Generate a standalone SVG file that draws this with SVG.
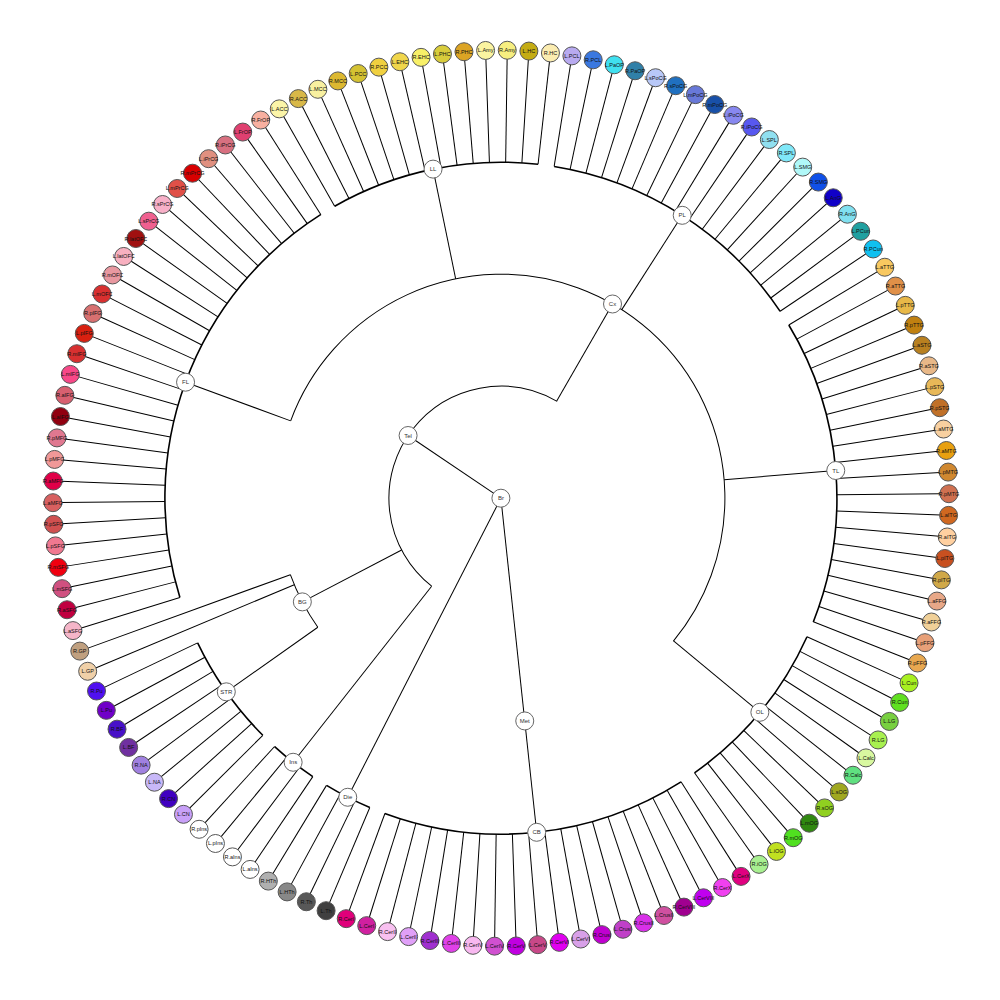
<svg xmlns="http://www.w3.org/2000/svg" xmlns:xlink="http://www.w3.org/1999/xlink" width="1000" height="1000" viewBox="0 0 1000 1000">
<style>
#links{stroke:#000;stroke-width:1;fill:none}
#links .a3{stroke-width:1.6}
.nd circle{stroke:#555;stroke-width:1}
.in circle{fill:#fff;stroke:#666}
text{font-family:"Liberation Sans",Arial,sans-serif;font-size:5.5px;text-anchor:middle;dominant-baseline:central;fill:#111}
.in text{font-size:6px;fill:#333}
</style>
<defs>
<line id="k" x1="0" y1="-336" x2="0" y2="-440"/>
<line id="kg" x1="0" y1="-224" x2="0" y2="-440"/>
</defs>
<rect width="1000" height="1000" fill="#fff"/>
<g transform="translate(500.9,498.2)">
<g id="links">
<circle class="a3" r="336" stroke-dasharray="211.1 2200" transform="rotate(-119.65)"/>
<circle class="a3" r="336" stroke-dasharray="276.07 2200" transform="rotate(-80.881)"/>
<circle class="a3" r="336" stroke-dasharray="308.55 2200" transform="rotate(-31.035)"/>
<circle class="a3" r="336" stroke-dasharray="178.64 2200" transform="rotate(24.35)"/>
<circle class="a3" r="336" stroke-dasharray="308.55 2200" transform="rotate(57.581)"/>
<circle class="a3" r="336" stroke-dasharray="48.72 2200" transform="rotate(112.965)"/>
<circle class="a3" r="336" stroke-dasharray="48.72 2200" transform="rotate(124.042)"/>
<circle class="a3" r="336" stroke-dasharray="113.68 2200" transform="rotate(135.119)"/>
<circle class="a3" r="336" stroke-dasharray="438.47 2200" transform="rotate(162.812)"/>
<circle r="224" stroke-dasharray="779.49 1500" transform="rotate(-159.804)"/>
<circle r="224" stroke-dasharray="59.54 1500" transform="rotate(144.812)"/>
<circle r="112" stroke-dasharray="335.62 800" transform="rotate(128.196)"/>
<line y1="0" y2="-112" transform="rotate(304.04)"/>
<line y1="0" y2="-224" transform="rotate(173.888)"/>
<line y1="-224" y2="-336" transform="rotate(173.888)"/>
<line y1="0" y2="-336" transform="rotate(207.119)"/>
<line y1="-112" y2="-224" transform="rotate(29.889)"/>
<line y1="-112" y2="-224" transform="rotate(242.427)"/>
<line y1="-112" y2="-336" transform="rotate(218.196)"/>
<line y1="-224" y2="-336" transform="rotate(234.812)"/>
<line y1="-224" y2="-336" transform="rotate(290.196)"/>
<line y1="-224" y2="-336" transform="rotate(-11.65)"/>
<line y1="-224" y2="-336" transform="rotate(32.658)"/>
<line y1="-224" y2="-336" transform="rotate(85.273)"/>
<line y1="-224" y2="-336" transform="rotate(129.581)"/>
<use href="#k" transform="rotate(-29.65)"/><use href="#k" transform="rotate(-26.881)"/><use href="#k" transform="rotate(-24.112)"/><use href="#k" transform="rotate(-21.342)"/><use href="#k" transform="rotate(-18.573)"/><use href="#k" transform="rotate(-15.804)"/><use href="#k" transform="rotate(-13.035)"/><use href="#k" transform="rotate(-10.265)"/><use href="#k" transform="rotate(-7.496)"/><use href="#k" transform="rotate(-4.727)"/><use href="#k" transform="rotate(-1.958)"/><use href="#k" transform="rotate(0.812)"/><use href="#k" transform="rotate(3.581)"/><use href="#k" transform="rotate(6.35)"/>
<use href="#k" transform="rotate(9.119)"/><use href="#k" transform="rotate(11.888)"/><use href="#k" transform="rotate(14.658)"/><use href="#k" transform="rotate(17.427)"/><use href="#k" transform="rotate(20.196)"/><use href="#k" transform="rotate(22.965)"/><use href="#k" transform="rotate(25.735)"/><use href="#k" transform="rotate(28.504)"/><use href="#k" transform="rotate(31.273)"/><use href="#k" transform="rotate(34.042)"/><use href="#k" transform="rotate(36.812)"/><use href="#k" transform="rotate(39.581)"/><use href="#k" transform="rotate(42.35)"/><use href="#k" transform="rotate(45.119)"/><use href="#k" transform="rotate(47.888)"/><use href="#k" transform="rotate(50.658)"/><use href="#k" transform="rotate(53.427)"/><use href="#k" transform="rotate(56.196)"/>
<use href="#k" transform="rotate(58.965)"/><use href="#k" transform="rotate(61.735)"/><use href="#k" transform="rotate(64.504)"/><use href="#k" transform="rotate(67.273)"/><use href="#k" transform="rotate(70.042)"/><use href="#k" transform="rotate(72.812)"/><use href="#k" transform="rotate(75.581)"/><use href="#k" transform="rotate(78.35)"/><use href="#k" transform="rotate(81.119)"/><use href="#k" transform="rotate(83.888)"/><use href="#k" transform="rotate(86.658)"/><use href="#k" transform="rotate(89.427)"/><use href="#k" transform="rotate(92.196)"/><use href="#k" transform="rotate(94.965)"/><use href="#k" transform="rotate(97.735)"/><use href="#k" transform="rotate(100.504)"/><use href="#k" transform="rotate(103.273)"/><use href="#k" transform="rotate(106.042)"/><use href="#k" transform="rotate(108.812)"/><use href="#k" transform="rotate(111.581)"/>
<use href="#k" transform="rotate(114.35)"/><use href="#k" transform="rotate(117.119)"/><use href="#k" transform="rotate(119.888)"/><use href="#k" transform="rotate(122.658)"/><use href="#k" transform="rotate(125.427)"/><use href="#k" transform="rotate(128.196)"/><use href="#k" transform="rotate(130.965)"/><use href="#k" transform="rotate(133.735)"/><use href="#k" transform="rotate(136.504)"/><use href="#k" transform="rotate(139.273)"/><use href="#k" transform="rotate(142.042)"/><use href="#k" transform="rotate(144.812)"/>
<use href="#k" transform="rotate(147.581)"/><use href="#k" transform="rotate(150.35)"/><use href="#k" transform="rotate(153.119)"/><use href="#k" transform="rotate(155.888)"/><use href="#k" transform="rotate(158.658)"/><use href="#k" transform="rotate(161.427)"/><use href="#k" transform="rotate(164.196)"/><use href="#k" transform="rotate(166.965)"/><use href="#k" transform="rotate(169.735)"/><use href="#k" transform="rotate(172.504)"/><use href="#k" transform="rotate(175.273)"/><use href="#k" transform="rotate(178.042)"/><use href="#k" transform="rotate(180.812)"/><use href="#k" transform="rotate(183.581)"/><use href="#k" transform="rotate(186.35)"/><use href="#k" transform="rotate(189.119)"/><use href="#k" transform="rotate(191.888)"/><use href="#k" transform="rotate(194.658)"/><use href="#k" transform="rotate(197.427)"/><use href="#k" transform="rotate(200.196)"/>
<use href="#k" transform="rotate(202.965)"/><use href="#k" transform="rotate(205.735)"/><use href="#k" transform="rotate(208.504)"/><use href="#k" transform="rotate(211.273)"/>
<use href="#k" transform="rotate(214.042)"/><use href="#k" transform="rotate(216.812)"/><use href="#k" transform="rotate(219.581)"/><use href="#k" transform="rotate(222.35)"/>
<use href="#k" transform="rotate(225.119)"/><use href="#k" transform="rotate(227.888)"/><use href="#k" transform="rotate(230.658)"/><use href="#k" transform="rotate(233.427)"/><use href="#k" transform="rotate(236.196)"/><use href="#k" transform="rotate(238.965)"/><use href="#k" transform="rotate(241.735)"/><use href="#k" transform="rotate(244.504)"/>
<use href="#kg" transform="rotate(247.273)"/><use href="#kg" transform="rotate(250.042)"/>
<use href="#k" transform="rotate(252.812)"/><use href="#k" transform="rotate(255.581)"/><use href="#k" transform="rotate(258.35)"/><use href="#k" transform="rotate(261.119)"/><use href="#k" transform="rotate(263.888)"/><use href="#k" transform="rotate(266.658)"/><use href="#k" transform="rotate(269.427)"/><use href="#k" transform="rotate(272.196)"/><use href="#k" transform="rotate(274.965)"/><use href="#k" transform="rotate(277.735)"/><use href="#k" transform="rotate(280.504)"/><use href="#k" transform="rotate(283.273)"/><use href="#k" transform="rotate(286.042)"/><use href="#k" transform="rotate(288.812)"/><use href="#k" transform="rotate(291.581)"/><use href="#k" transform="rotate(294.35)"/><use href="#k" transform="rotate(297.119)"/><use href="#k" transform="rotate(299.888)"/><use href="#k" transform="rotate(302.658)"/><use href="#k" transform="rotate(305.427)"/><use href="#k" transform="rotate(308.196)"/><use href="#k" transform="rotate(310.965)"/><use href="#k" transform="rotate(313.735)"/><use href="#k" transform="rotate(316.504)"/><use href="#k" transform="rotate(319.273)"/><use href="#k" transform="rotate(322.042)"/><use href="#k" transform="rotate(324.812)"/><use href="#k" transform="rotate(327.581)"/>
</g>
<g id="nodes">
<g id="Br" class="nd in"><circle r="9"/><text>Br</text></g>
<g id="Tel" class="nd in" transform="rotate(304.04)translate(0,-112)rotate(-304.04)"><circle r="9"/><text>Tel</text></g>
<g id="Cx" class="nd in" transform="rotate(29.889)translate(0,-224)rotate(-29.889)"><circle r="9"/><text>Cx</text></g>
<g id="Met" class="nd in" transform="rotate(173.888)translate(0,-224)rotate(-173.888)"><circle r="9"/><text>Met</text></g>
<g id="BG" class="nd in" transform="rotate(242.427)translate(0,-224)rotate(-242.427)"><circle r="9"/><text>BG</text></g>
<g id="LL" class="nd in" transform="rotate(-11.65)translate(0,-336)rotate(11.65)"><circle r="9"/><text>LL</text></g>
<g id="PL" class="nd in" transform="rotate(32.658)translate(0,-336)rotate(-32.658)"><circle r="9"/><text>PL</text></g>
<g id="TL" class="nd in" transform="rotate(85.273)translate(0,-336)rotate(-85.273)"><circle r="9"/><text>TL</text></g>
<g id="OL" class="nd in" transform="rotate(129.581)translate(0,-336)rotate(-129.581)"><circle r="9"/><text>OL</text></g>
<g id="CB" class="nd in" transform="rotate(173.888)translate(0,-336)rotate(-173.888)"><circle r="9"/><text>CB</text></g>
<g id="Die" class="nd in" transform="rotate(207.119)translate(0,-336)rotate(-207.119)"><circle r="9"/><text>Die</text></g>
<g id="Ins" class="nd in" transform="rotate(218.196)translate(0,-336)rotate(-218.196)"><circle r="9"/><text>Ins</text></g>
<g id="STR" class="nd in" transform="rotate(234.812)translate(0,-336)rotate(-234.812)"><circle r="9"/><text>STR</text></g>
<g id="FL" class="nd in" transform="rotate(290.196)translate(0,-336)rotate(-290.196)"><circle r="9"/><text>FL</text></g>

<g id="L.ACC" class="nd" transform="rotate(-29.65)translate(0,-448)rotate(29.65)"><circle r="9" fill="#fbf5a8"/><text>L.ACC</text></g>
<g id="R.ACC" class="nd" transform="rotate(-26.881)translate(0,-448)rotate(26.881)"><circle r="9" fill="#d8b848"/><text>R.ACC</text></g>
<g id="L.MCC" class="nd" transform="rotate(-24.112)translate(0,-448)rotate(24.112)"><circle r="9" fill="#f8f0a0"/><text>L.MCC</text></g>
<g id="R.MCC" class="nd" transform="rotate(-21.342)translate(0,-448)rotate(21.342)"><circle r="9" fill="#dcb830"/><text>R.MCC</text></g>
<g id="L.PCC" class="nd" transform="rotate(-18.573)translate(0,-448)rotate(18.573)"><circle r="9" fill="#d4c232"/><text>L.PCC</text></g>
<g id="R.PCC" class="nd" transform="rotate(-15.804)translate(0,-448)rotate(15.804)"><circle r="9" fill="#f0d040"/><text>R.PCC</text></g>
<g id="L.EHC" class="nd" transform="rotate(-13.035)translate(0,-448)rotate(13.035)"><circle r="9" fill="#f0d64c"/><text>L.EHC</text></g>
<g id="R.EHC" class="nd" transform="rotate(-10.265)translate(0,-448)rotate(10.265)"><circle r="9" fill="#f8f068"/><text>R.EHC</text></g>
<g id="L.PHC" class="nd" transform="rotate(-7.496)translate(0,-448)rotate(7.496)"><circle r="9" fill="#d8cc3c"/><text>L.PHC</text></g>
<g id="R.PHC" class="nd" transform="rotate(-4.727)translate(0,-448)rotate(4.727)"><circle r="9" fill="#dca424"/><text>R.PHC</text></g>
<g id="L.Amy" class="nd" transform="rotate(-1.958)translate(0,-448)rotate(1.958)"><circle r="9" fill="#fbf4a0"/><text>L.Amy</text></g>
<g id="R.Amy" class="nd" transform="rotate(0.812)translate(0,-448)rotate(-0.812)"><circle r="9" fill="#f6ee80"/><text>R.Amy</text></g>
<g id="L.HC" class="nd" transform="rotate(3.581)translate(0,-448)rotate(-3.581)"><circle r="9" fill="#c4ac14"/><text>L.HC</text></g>
<g id="R.HC" class="nd" transform="rotate(6.35)translate(0,-448)rotate(-6.35)"><circle r="9" fill="#fbecb0"/><text>R.HC</text></g>
<g id="L.PCL" class="nd" transform="rotate(9.119)translate(0,-448)rotate(-9.119)"><circle r="9" fill="#b8aaf0"/><text>L.PCL</text></g>
<g id="R.PCL" class="nd" transform="rotate(11.888)translate(0,-448)rotate(-11.888)"><circle r="9" fill="#3a78e0"/><text>R.PCL</text></g>
<g id="L.PaOP" class="nd" transform="rotate(14.658)translate(0,-448)rotate(-14.658)"><circle r="9" fill="#40e0f0"/><text>L.PaOP</text></g>
<g id="R.PaOP" class="nd" transform="rotate(17.427)translate(0,-448)rotate(-17.427)"><circle r="9" fill="#3080a8"/><text>R.PaOP</text></g>
<g id="L.sPoCG" class="nd" transform="rotate(20.196)translate(0,-448)rotate(-20.196)"><circle r="9" fill="#b8c8f8"/><text>L.sPoCG</text></g>
<g id="R.sPoCG" class="nd" transform="rotate(22.965)translate(0,-448)rotate(-22.965)"><circle r="9" fill="#2070c0"/><text>R.sPoCG</text></g>
<g id="L.mPoCG" class="nd" transform="rotate(25.735)translate(0,-448)rotate(-25.735)"><circle r="9" fill="#6878d8"/><text>L.mPoCG</text></g>
<g id="R.mPoCG" class="nd" transform="rotate(28.504)translate(0,-448)rotate(-28.504)"><circle r="9" fill="#1850a8"/><text>R.mPoCG</text></g>
<g id="L.iPoCG" class="nd" transform="rotate(31.273)translate(0,-448)rotate(-31.273)"><circle r="9" fill="#8888f0"/><text>L.iPoCG</text></g>
<g id="R.iPoCG" class="nd" transform="rotate(34.042)translate(0,-448)rotate(-34.042)"><circle r="9" fill="#5858f0"/><text>R.iPoCG</text></g>
<g id="L.SPL" class="nd" transform="rotate(36.812)translate(0,-448)rotate(-36.812)"><circle r="9" fill="#90e0f0"/><text>L.SPL</text></g>
<g id="R.SPL" class="nd" transform="rotate(39.581)translate(0,-448)rotate(-39.581)"><circle r="9" fill="#80e8f8"/><text>R.SPL</text></g>
<g id="L.SMG" class="nd" transform="rotate(42.35)translate(0,-448)rotate(-42.35)"><circle r="9" fill="#b0f8f8"/><text>L.SMG</text></g>
<g id="R.SMG" class="nd" transform="rotate(45.119)translate(0,-448)rotate(-45.119)"><circle r="9" fill="#1050e8"/><text>R.SMG</text></g>
<g id="L.AnG" class="nd" transform="rotate(47.888)translate(0,-448)rotate(-47.888)"><circle r="9" fill="#1000c8"/><text>L.AnG</text></g>
<g id="R.AnG" class="nd" transform="rotate(50.658)translate(0,-448)rotate(-50.658)"><circle r="9" fill="#80e0f0"/><text>R.AnG</text></g>
<g id="L.PCun" class="nd" transform="rotate(53.427)translate(0,-448)rotate(-53.427)"><circle r="9" fill="#20a0a0"/><text>L.PCun</text></g>
<g id="R.PCun" class="nd" transform="rotate(56.196)translate(0,-448)rotate(-56.196)"><circle r="9" fill="#10c0f0"/><text>R.PCun</text></g>
<g id="L.aTTG" class="nd" transform="rotate(58.965)translate(0,-448)rotate(-58.965)"><circle r="9" fill="#f8c860"/><text>L.aTTG</text></g>
<g id="R.aTTG" class="nd" transform="rotate(61.735)translate(0,-448)rotate(-61.735)"><circle r="9" fill="#e09048"/><text>R.aTTG</text></g>
<g id="L.pTTG" class="nd" transform="rotate(64.504)translate(0,-448)rotate(-64.504)"><circle r="9" fill="#e8b848"/><text>L.pTTG</text></g>
<g id="R.pTTG" class="nd" transform="rotate(67.273)translate(0,-448)rotate(-67.273)"><circle r="9" fill="#c08010"/><text>R.pTTG</text></g>
<g id="L.aSTG" class="nd" transform="rotate(70.042)translate(0,-448)rotate(-70.042)"><circle r="9" fill="#b88020"/><text>L.aSTG</text></g>
<g id="R.aSTG" class="nd" transform="rotate(72.812)translate(0,-448)rotate(-72.812)"><circle r="9" fill="#e8b888"/><text>R.aSTG</text></g>
<g id="L.pSTG" class="nd" transform="rotate(75.581)translate(0,-448)rotate(-75.581)"><circle r="9" fill="#e8b858"/><text>L.pSTG</text></g>
<g id="R.pSTG" class="nd" transform="rotate(78.35)translate(0,-448)rotate(-78.35)"><circle r="9" fill="#c07028"/><text>R.pSTG</text></g>
<g id="L.aMTG" class="nd" transform="rotate(81.119)translate(0,-448)rotate(-81.119)"><circle r="9" fill="#f8d0a0"/><text>L.aMTG</text></g>
<g id="R.aMTG" class="nd" transform="rotate(83.888)translate(0,-448)rotate(-83.888)"><circle r="9" fill="#e8a010"/><text>R.aMTG</text></g>
<g id="L.pMTG" class="nd" transform="rotate(86.658)translate(0,-448)rotate(-86.658)"><circle r="9" fill="#d08830"/><text>L.pMTG</text></g>
<g id="R.pMTG" class="nd" transform="rotate(89.427)translate(0,-448)rotate(-89.427)"><circle r="9" fill="#d07050"/><text>R.pMTG</text></g>
<g id="L.aITG" class="nd" transform="rotate(92.196)translate(0,-448)rotate(-92.196)"><circle r="9" fill="#d06820"/><text>L.aITG</text></g>
<g id="R.aITG" class="nd" transform="rotate(94.965)translate(0,-448)rotate(-94.965)"><circle r="9" fill="#ffd0a0"/><text>R.aITG</text></g>
<g id="L.pITG" class="nd" transform="rotate(97.735)translate(0,-448)rotate(-97.735)"><circle r="9" fill="#c85020"/><text>L.pITG</text></g>
<g id="R.pITG" class="nd" transform="rotate(100.504)translate(0,-448)rotate(-100.504)"><circle r="9" fill="#d0a848"/><text>R.pITG</text></g>
<g id="L.aFFG" class="nd" transform="rotate(103.273)translate(0,-448)rotate(-103.273)"><circle r="9" fill="#e8a888"/><text>L.aFFG</text></g>
<g id="R.aFFG" class="nd" transform="rotate(106.042)translate(0,-448)rotate(-106.042)"><circle r="9" fill="#f0d098"/><text>R.aFFG</text></g>
<g id="L.pFFG" class="nd" transform="rotate(108.812)translate(0,-448)rotate(-108.812)"><circle r="9" fill="#e8a078"/><text>L.pFFG</text></g>
<g id="R.pFFG" class="nd" transform="rotate(111.581)translate(0,-448)rotate(-111.581)"><circle r="9" fill="#e8a850"/><text>R.pFFG</text></g>
<g id="L.Cun" class="nd" transform="rotate(114.35)translate(0,-448)rotate(-114.35)"><circle r="9" fill="#a8f020"/><text>L.Cun</text></g>
<g id="R.Cun" class="nd" transform="rotate(117.119)translate(0,-448)rotate(-117.119)"><circle r="9" fill="#60e020"/><text>R.Cun</text></g>
<g id="L.LG" class="nd" transform="rotate(119.888)translate(0,-448)rotate(-119.888)"><circle r="9" fill="#78d040"/><text>L.LG</text></g>
<g id="R.LG" class="nd" transform="rotate(122.658)translate(0,-448)rotate(-122.658)"><circle r="9" fill="#a8f050"/><text>R.LG</text></g>
<g id="L.Calc" class="nd" transform="rotate(125.427)translate(0,-448)rotate(-125.427)"><circle r="9" fill="#d8f8a0"/><text>L.Calc</text></g>
<g id="R.Calc" class="nd" transform="rotate(128.196)translate(0,-448)rotate(-128.196)"><circle r="9" fill="#60e080"/><text>R.Calc</text></g>
<g id="L.sOG" class="nd" transform="rotate(130.965)translate(0,-448)rotate(-130.965)"><circle r="9" fill="#a0a820"/><text>L.sOG</text></g>
<g id="R.sOG" class="nd" transform="rotate(133.735)translate(0,-448)rotate(-133.735)"><circle r="9" fill="#90d020"/><text>R.sOG</text></g>
<g id="L.mOG" class="nd" transform="rotate(136.504)translate(0,-448)rotate(-136.504)"><circle r="9" fill="#308810"/><text>L.mOG</text></g>
<g id="R.mOG" class="nd" transform="rotate(139.273)translate(0,-448)rotate(-139.273)"><circle r="9" fill="#50e020"/><text>R.mOG</text></g>
<g id="L.iOG" class="nd" transform="rotate(142.042)translate(0,-448)rotate(-142.042)"><circle r="9" fill="#c0e020"/><text>L.iOG</text></g>
<g id="R.iOG" class="nd" transform="rotate(144.812)translate(0,-448)rotate(-144.812)"><circle r="9" fill="#a8f090"/><text>R.iOG</text></g>
<g id="L.CerX" class="nd" transform="rotate(147.581)translate(0,-448)rotate(-147.581)"><circle r="9" fill="#e00080"/><text>L.CerX</text></g>
<g id="R.CerX" class="nd" transform="rotate(150.35)translate(0,-448)rotate(-150.35)"><circle r="9" fill="#f040f0"/><text>R.CerX</text></g>
<g id="L.CerVIII" class="nd" transform="rotate(153.119)translate(0,-448)rotate(-153.119)"><circle r="9" fill="#c000f0"/><text>L.CerVIII</text></g>
<g id="R.CerVIII" class="nd" transform="rotate(155.888)translate(0,-448)rotate(-155.888)"><circle r="9" fill="#a00090"/><text>R.CerVIII</text></g>
<g id="L.CrusII" class="nd" transform="rotate(158.658)translate(0,-448)rotate(-158.658)"><circle r="9" fill="#d050a0"/><text>L.CrusII</text></g>
<g id="R.CrusII" class="nd" transform="rotate(161.427)translate(0,-448)rotate(-161.427)"><circle r="9" fill="#d830e8"/><text>R.CrusII</text></g>
<g id="L.CrusI" class="nd" transform="rotate(164.196)translate(0,-448)rotate(-164.196)"><circle r="9" fill="#c040c8"/><text>L.CrusI</text></g>
<g id="R.CrusI" class="nd" transform="rotate(166.965)translate(0,-448)rotate(-166.965)"><circle r="9" fill="#c000d0"/><text>R.CrusI</text></g>
<g id="L.CerVI" class="nd" transform="rotate(169.735)translate(0,-448)rotate(-169.735)"><circle r="9" fill="#d8a0e8"/><text>L.CerVI</text></g>
<g id="R.CerVI" class="nd" transform="rotate(172.504)translate(0,-448)rotate(-172.504)"><circle r="9" fill="#e000f0"/><text>R.CerVI</text></g>
<g id="L.CerV" class="nd" transform="rotate(175.273)translate(0,-448)rotate(-175.273)"><circle r="9" fill="#c84888"/><text>L.CerV</text></g>
<g id="R.CerV" class="nd" transform="rotate(178.042)translate(0,-448)rotate(-178.042)"><circle r="9" fill="#c000e0"/><text>R.CerV</text></g>
<g id="L.CerIV" class="nd" transform="rotate(180.812)translate(0,-448)rotate(-180.812)"><circle r="9" fill="#d050d0"/><text>L.CerIV</text></g>
<g id="R.CerIV" class="nd" transform="rotate(183.581)translate(0,-448)rotate(-183.581)"><circle r="9" fill="#f8b8f0"/><text>R.CerIV</text></g>
<g id="L.CerIII" class="nd" transform="rotate(186.35)translate(0,-448)rotate(-186.35)"><circle r="9" fill="#e040e8"/><text>L.CerIII</text></g>
<g id="R.CerIII" class="nd" transform="rotate(189.119)translate(0,-448)rotate(-189.119)"><circle r="9" fill="#a030d0"/><text>R.CerIII</text></g>
<g id="L.CerII" class="nd" transform="rotate(191.888)translate(0,-448)rotate(-191.888)"><circle r="9" fill="#e0a0f8"/><text>L.CerII</text></g>
<g id="R.CerII" class="nd" transform="rotate(194.658)translate(0,-448)rotate(-194.658)"><circle r="9" fill="#f8c0f0"/><text>R.CerII</text></g>
<g id="L.CerI" class="nd" transform="rotate(197.427)translate(0,-448)rotate(-197.427)"><circle r="9" fill="#d020a0"/><text>L.CerI</text></g>
<g id="R.CerI" class="nd" transform="rotate(200.196)translate(0,-448)rotate(-200.196)"><circle r="9" fill="#e0007a"/><text>R.CerI</text></g>
<g id="L.Th" class="nd" transform="rotate(202.965)translate(0,-448)rotate(-202.965)"><circle r="9" fill="#404040"/><text>L.Th</text></g>
<g id="R.Th" class="nd" transform="rotate(205.735)translate(0,-448)rotate(-205.735)"><circle r="9" fill="#585858"/><text>R.Th</text></g>
<g id="L.HTh" class="nd" transform="rotate(208.504)translate(0,-448)rotate(-208.504)"><circle r="9" fill="#888"/><text>L.HTh</text></g>
<g id="R.HTh" class="nd" transform="rotate(211.273)translate(0,-448)rotate(-211.273)"><circle r="9" fill="#b0b0b0"/><text>R.HTh</text></g>
<g id="L.aIns" class="nd" transform="rotate(214.042)translate(0,-448)rotate(-214.042)"><circle r="9" fill="#fff"/><text>L.aIns</text></g>
<g id="R.aIns" class="nd" transform="rotate(216.812)translate(0,-448)rotate(-216.812)"><circle r="9" fill="#fff"/><text>R.aIns</text></g>
<g id="L.pIns" class="nd" transform="rotate(219.581)translate(0,-448)rotate(-219.581)"><circle r="9" fill="#fff"/><text>L.pIns</text></g>
<g id="R.pIns" class="nd" transform="rotate(222.35)translate(0,-448)rotate(-222.35)"><circle r="9" fill="#fff"/><text>R.pIns</text></g>
<g id="L.CN" class="nd" transform="rotate(225.119)translate(0,-448)rotate(-225.119)"><circle r="9" fill="#c8a0f8"/><text>L.CN</text></g>
<g id="R.CN" class="nd" transform="rotate(227.888)translate(0,-448)rotate(-227.888)"><circle r="9" fill="#4000c0"/><text>R.CN</text></g>
<g id="L.NA" class="nd" transform="rotate(230.658)translate(0,-448)rotate(-230.658)"><circle r="9" fill="#c8b8f8"/><text>L.NA</text></g>
<g id="R.NA" class="nd" transform="rotate(233.427)translate(0,-448)rotate(-233.427)"><circle r="9" fill="#a080e0"/><text>R.NA</text></g>
<g id="L.BF" class="nd" transform="rotate(236.196)translate(0,-448)rotate(-236.196)"><circle r="9" fill="#7030a0"/><text>L.BF</text></g>
<g id="R.BF" class="nd" transform="rotate(238.965)translate(0,-448)rotate(-238.965)"><circle r="9" fill="#4810c8"/><text>R.BF</text></g>
<g id="L.Pu" class="nd" transform="rotate(241.735)translate(0,-448)rotate(-241.735)"><circle r="9" fill="#7000c8"/><text>L.Pu</text></g>
<g id="R.Pu" class="nd" transform="rotate(244.504)translate(0,-448)rotate(-244.504)"><circle r="9" fill="#5010f0"/><text>R.Pu</text></g>
<g id="L.GP" class="nd" transform="rotate(247.273)translate(0,-448)rotate(-247.273)"><circle r="9" fill="#f0d0a8"/><text>L.GP</text></g>
<g id="R.GP" class="nd" transform="rotate(250.042)translate(0,-448)rotate(-250.042)"><circle r="9" fill="#c0a080"/><text>R.GP</text></g>
<g id="L.aSFG" class="nd" transform="rotate(252.812)translate(0,-448)rotate(-252.812)"><circle r="9" fill="#f5b5c8"/><text>L.aSFG</text></g>
<g id="R.aSFG" class="nd" transform="rotate(255.581)translate(0,-448)rotate(-255.581)"><circle r="9" fill="#c00040"/><text>R.aSFG</text></g>
<g id="L.mSFG" class="nd" transform="rotate(258.35)translate(0,-448)rotate(-258.35)"><circle r="9" fill="#d05080"/><text>L.mSFG</text></g>
<g id="R.mSFG" class="nd" transform="rotate(261.119)translate(0,-448)rotate(-261.119)"><circle r="9" fill="#f00010"/><text>R.mSFG</text></g>
<g id="L.pSFG" class="nd" transform="rotate(263.888)translate(0,-448)rotate(-263.888)"><circle r="9" fill="#f07890"/><text>L.pSFG</text></g>
<g id="R.pSFG" class="nd" transform="rotate(266.658)translate(0,-448)rotate(-266.658)"><circle r="9" fill="#d05050"/><text>R.pSFG</text></g>
<g id="L.aMFG" class="nd" transform="rotate(269.427)translate(0,-448)rotate(-269.427)"><circle r="9" fill="#d86060"/><text>L.aMFG</text></g>
<g id="R.aMFG" class="nd" transform="rotate(272.196)translate(0,-448)rotate(-272.196)"><circle r="9" fill="#e00048"/><text>R.aMFG</text></g>
<g id="L.pMFG" class="nd" transform="rotate(274.965)translate(0,-448)rotate(-274.965)"><circle r="9" fill="#f09898"/><text>L.pMFG</text></g>
<g id="R.pMFG" class="nd" transform="rotate(277.735)translate(0,-448)rotate(-277.735)"><circle r="9" fill="#e07890"/><text>R.pMFG</text></g>
<g id="L.aIFG" class="nd" transform="rotate(280.504)translate(0,-448)rotate(-280.504)"><circle r="9" fill="#900010"/><text>L.aIFG</text></g>
<g id="R.aIFG" class="nd" transform="rotate(283.273)translate(0,-448)rotate(-283.273)"><circle r="9" fill="#d86070"/><text>R.aIFG</text></g>
<g id="L.mIFG" class="nd" transform="rotate(286.042)translate(0,-448)rotate(-286.042)"><circle r="9" fill="#f84888"/><text>L.mIFG</text></g>
<g id="R.mIFG" class="nd" transform="rotate(288.812)translate(0,-448)rotate(-288.812)"><circle r="9" fill="#d83030"/><text>R.mIFG</text></g>
<g id="L.pIFG" class="nd" transform="rotate(291.581)translate(0,-448)rotate(-291.581)"><circle r="9" fill="#d82010"/><text>L.pIFG</text></g>
<g id="R.pIFG" class="nd" transform="rotate(294.35)translate(0,-448)rotate(-294.35)"><circle r="9" fill="#d87070"/><text>R.pIFG</text></g>
<g id="L.mOFC" class="nd" transform="rotate(297.119)translate(0,-448)rotate(-297.119)"><circle r="9" fill="#d83030"/><text>L.mOFC</text></g>
<g id="R.mOFC" class="nd" transform="rotate(299.888)translate(0,-448)rotate(-299.888)"><circle r="9" fill="#e898a0"/><text>R.mOFC</text></g>
<g id="L.latOFC" class="nd" transform="rotate(302.658)translate(0,-448)rotate(-302.658)"><circle r="9" fill="#f8b0c0"/><text>L.latOFC</text></g>
<g id="R.latOFC" class="nd" transform="rotate(305.427)translate(0,-448)rotate(-305.427)"><circle r="9" fill="#a01010"/><text>R.latOFC</text></g>
<g id="L.sPrCG" class="nd" transform="rotate(308.196)translate(0,-448)rotate(-308.196)"><circle r="9" fill="#f06090"/><text>L.sPrCG</text></g>
<g id="R.sPrCG" class="nd" transform="rotate(310.965)translate(0,-448)rotate(-310.965)"><circle r="9" fill="#f8b0c8"/><text>R.sPrCG</text></g>
<g id="L.mPrCG" class="nd" transform="rotate(313.735)translate(0,-448)rotate(-313.735)"><circle r="9" fill="#e05048"/><text>L.mPrCG</text></g>
<g id="R.mPrCG" class="nd" transform="rotate(316.504)translate(0,-448)rotate(-316.504)"><circle r="9" fill="#d80000"/><text>R.mPrCG</text></g>
<g id="L.iPrCG" class="nd" transform="rotate(319.273)translate(0,-448)rotate(-319.273)"><circle r="9" fill="#e09080"/><text>L.iPrCG</text></g>
<g id="R.iPrCG" class="nd" transform="rotate(322.042)translate(0,-448)rotate(-322.042)"><circle r="9" fill="#d87080"/><text>R.iPrCG</text></g>
<g id="L.FrOP" class="nd" transform="rotate(324.812)translate(0,-448)rotate(-324.812)"><circle r="9" fill="#e04070"/><text>L.FrOP</text></g>
<g id="R.FrOP" class="nd" transform="rotate(327.581)translate(0,-448)rotate(-327.581)"><circle r="9" fill="#f8b0a0"/><text>R.FrOP</text></g>
</g>
</g>
</svg>
